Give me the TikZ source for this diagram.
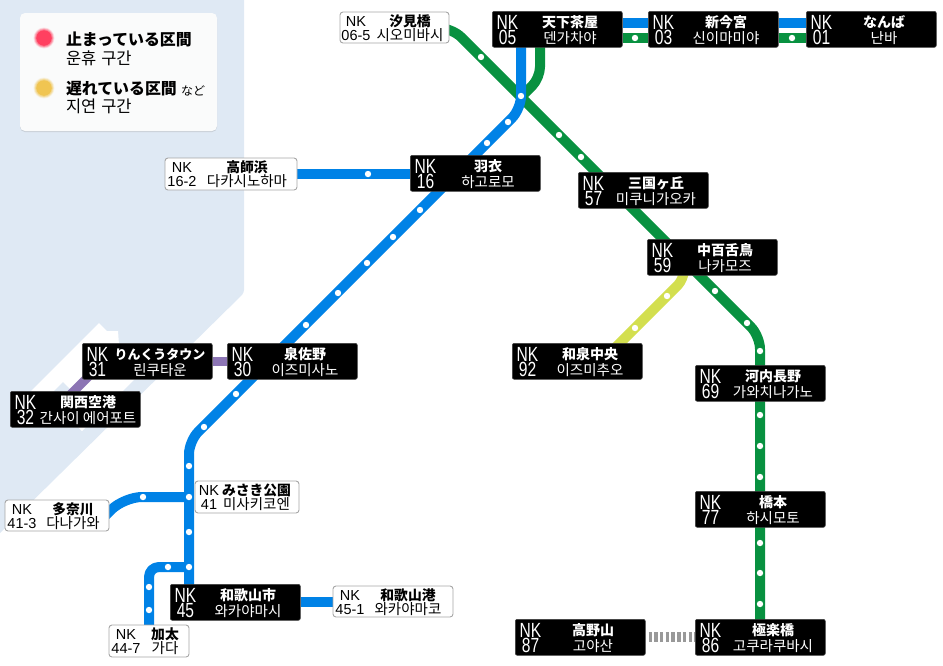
\documentclass[tikz,border=0pt]{standalone}
\usepackage{fontspec}
\usetikzlibrary{shadows}
\setmainfont{Liberation Sans}
\newfontfamily\latinnarrow[FakeStretch=0.76]{Liberation Sans}
\newfontfamily\jpfont{Noto Sans CJK JP}
\newfontfamily\krfont{Noto Sans CJK KR}
\definecolor{seacol}{HTML}{DFE9F4}
\definecolor{linblue}{HTML}{0082E6}
\definecolor{lingreen}{HTML}{089140}
\definecolor{linpurple}{HTML}{8C75B4}
\definecolor{linlime}{HTML}{D3DF4F}
\definecolor{lingray}{HTML}{999999}
\definecolor{stopred}{HTML}{FF4060}
\definecolor{stopamber}{HTML}{F0C552}
\definecolor{legendbg}{HTML}{FAFBFB}
\pgfdeclarelayer{sea}
\pgfdeclarelayer{lines}
\pgfsetlayers{sea,lines,main}
\tikzset{
  blackbox/.style={anchor=north west,fill=black,draw=black!75,line width=.6pt,rounded corners=2pt,minimum width=130pt,minimum height=36pt,inner sep=0pt},
  whitebox/.style={fill=white,draw=black!35,line width=.9pt,rounded corners=3pt,inner sep=0pt},
  txt/.style={anchor=base,inner sep=0pt,outer sep=0pt},
  nkbig/.style={txt,text=white,font=\latinnarrow\fontsize{20.5}{20.5}\selectfont},
  jpw/.style={txt,text=white,font=\jpfont\bfseries\fontsize{14}{14}\selectfont},
  krw/.style={txt,text=white,font=\krfont\fontsize{14.5}{14.5}\selectfont},
  nksmall/.style={txt,text=black,font=\fontsize{14.5}{14.5}\selectfont},
  jpk/.style={txt,text=black,font=\jpfont\bfseries\fontsize{13.8}{13.8}\selectfont},
  krk/.style={txt,text=black,font=\krfont\fontsize{14.5}{14.5}\selectfont},
  track/.style={line width=10pt,line join=round},
  dot/.style={circle,fill=white,inner sep=0pt,minimum size=6.4pt},
}
% id, left, top, number, japanese, korean
\newcommand{\blackstn}[6]{%
  \node[blackbox] (#1) at (#2,#3) {};
  \node[nkbig] (#1nk) at (#2+15.5,#3+18.3) {NK};
  \node[nkbig] (#1no) at (#2+15.5,#3+33.6) {#4};
  \node[jpw] (#1jp) at (#2+78,#3+16.3) {#5};
  \node[krw] (#1kr) at (#2+78,#3+32) {#6};
}
% id, left, top, right, bottom, nk centre x, name centre x, number, japanese, korean
\newcommand{\whitestn}[9]{%
  \node[whitebox,minimum width={(#4)-(#2)},minimum height={(#5)-(#3)}] (#1) at ({((#2)+(#4))/2},{((#3)+(#5))/2}) {};
  \whitestntext{#1}{#2}{#3}{#6}{#7}{#8}{#9}%
}
\newcommand{\whitestntext}[7]{%
  \node[nksmall] (#1nk) at (#4,#3+14.8) {NK};
  \node[nksmall] (#1no) at (#4,#3+28.3) {#6};
  \node[jpk] (#1jp) at (#5,#3+14.6) {#7};
  \whitekr{#1}{#5}{#3}%
}
\newcommand{\whitekr}[3]{\node[krk] (#1kr) at (#2,#3+28.4) {\csname kr#1\endcsname};}
\begin{document}
\begin{tikzpicture}[x=1pt,y=-1pt]
\useasboundingbox (0,0) rectangle (943,665);
\begin{pgfonlayer}{sea}
  \fill[seacol] (0,0) -- (244,0) -- (244,288) [rounded corners=3pt] -- (244,293) [sharp corners] -- (0,533) -- cycle;
  \fill[white] (99,323) -- (107,331) -- (118,331) -- (119,345) -- (135,379) -- (82,431) -- (50,399) -- (30,392) -- cycle;
  \fill[seacol] (63,382) -- (52,393) -- (74,393) -- cycle;
\end{pgfonlayer}

% stations
\blackstn{nA}{492}{11}{05}{天下茶屋}{덴가차야}
\blackstn{nB}{648}{11}{03}{新今宮}{신이마미야}
\blackstn{nC}{806}{11}{01}{なんば}{난바}
\blackstn{nD}{410}{155}{16}{羽衣}{하고로모}
\blackstn{nE}{578}{172}{57}{三国ヶ丘}{미쿠니가오카}
\blackstn{nF}{647}{239}{59}{中百舌鳥}{나카모즈}
\blackstn{nG}{512}{343}{92}{和泉中央}{이즈미추오}
\blackstn{nH}{695}{365}{69}{河内長野}{가와치나가노}
\blackstn{nI}{695}{491}{77}{橋本}{하시모토}
\blackstn{nJ}{695}{619}{86}{極楽橋}{고쿠라쿠바시}
\blackstn{nK}{515}{619}{87}{高野山}{고야산}
\blackstn{nL}{82}{343}{31}{\fontsize{13}{13}\selectfont りんくうタウン}{린쿠타운}
\blackstn{nM}{227}{343}{30}{泉佐野}{이즈미사노}
\blackstn{nN}{10}{391}{32}{関西空港}{간사이 에어포트}
\blackstn{nO}{170}{584}{45}{和歌山市}{와카야마시}

\expandafter\def\csname krwP\endcsname{시오미바시}
\expandafter\def\csname krwQ\endcsname{다카시노하마}
\expandafter\def\csname krwR\endcsname{미사키코엔}
\expandafter\def\csname krwS\endcsname{다나가와}
\expandafter\def\csname krwT\endcsname{가다}
\expandafter\def\csname krwU\endcsname{와카야마코}
\whitestn{wP}{340}{12}{449}{43}{356}{410}{06-5}{汐見橋}
\whitestn{wQ}{165}{158}{297}{190}{182}{247}{16-2}{高師浜}
\whitestn{wR}{195}{481}{299}{513}{209}{256.5}{41}{みさき公園}
\whitestn{wS}{5}{500}{109}{531}{22}{73}{41-3}{多奈川}
\whitestn{wT}{109}{625}{189}{657}{126}{165}{44-7}{加太}
\whitestn{wU}{333}{586}{453}{617}{350}{408}{45-1}{和歌山港}

% junction and line-end coordinates
\coordinate (gA) at (445,28);
\coordinate (gB) at (452,28);
\coordinate (gC) at (760,336);
\coordinate (gD) at (760,630);
\coordinate (hA) at (540,40);
\coordinate (hB) at (540,78);
\coordinate (hC) at (522,96);
\coordinate (bA) at (521,40);
\coordinate (bB) at (521,109);
\coordinate (bC) at (189,441);
\coordinate (bD) at (189,590);
\coordinate (jTana) at (189,497);
\coordinate (tB) at (124,497);
\coordinate (tC) at (104,517);
\coordinate (jKada) at (189,567);
\coordinate (kB) at (149,567);
\coordinate (kC) at (149,632);
\coordinate (limeA) at (684,265);
\coordinate (limeB) at (684,279);
\coordinate (limeC) at (612,351);
\coordinate (purA) at (95,370);
\coordinate (purB) at (70,395);

\begin{pgfonlayer}{lines}
  \draw[track,lingreen,rounded corners=13pt] (gA) -- (gB) -- (gC) -- (gD);
  \draw[track,lingreen,rounded corners=11pt] (hA) -- (hB) -- (hC);
  \draw[track,lingreen] (nA.east |- 0,37.7) -- (nB.west |- 0,37.7);
  \draw[track,lingreen] (nB.east |- 0,37.7) -- (nC.west |- 0,37.7);
  \draw[track,linblue] (nA.east |- 0,23) -- (nB.west |- 0,23);
  \draw[track,linblue] (nB.east |- 0,23) -- (nC.west |- 0,23);
  \draw[track,linblue,rounded corners=13pt] (bA) -- (bB) -- (bC) -- (bD);
  \draw[track,linblue,rounded corners=18pt] (jTana) -- (tB) -- (tC);
  \draw[track,linblue,rounded corners=10pt] (jKada) -- (kB) -- (kC);
  \draw[track,linblue] (nD.west |- 0,174) -- (wQ.east |- 0,174);
  \draw[track,linblue] (nO.east |- 0,601.5) -- (wU.west |- 0,601.5);
  \draw[line width=9pt,linpurple] (nL.east |- 0,361.7) -- (nM.west |- 0,361.7);
  \draw[line width=9pt,linpurple] (purA) -- (purB);
  \draw[track,linlime,rounded corners=9pt] (limeA) -- (limeB) -- (limeC);
  \draw[line width=10pt,lingray,dash pattern=on 3.4pt off 2.3pt] (nK.east |- 0,637) ++(3,0) -- (nJ.west |- 0,637);
  \foreach \dx/\dy [count=\di] in {481/57,559/135,581/157,715/291,747/323,760/351,760/415,760/446,760/477,760/543,760/573,760/604,635/38,792/38,
    521/96,508/122,487/143,420/210,393/237,367/263,338/293,306/325,236/394,204/427,189/466,189/497,189/532,189/567,143/497,168/567,149/587,149/610,368/174,667/296,635/328}
    \node[dot] (stop\di) at (\dx,\dy) {};
\end{pgfonlayer}

% legend
\node[fill=legendbg,rounded corners=5pt,minimum width=197pt,minimum height=118pt,inner sep=0pt,
      drop shadow={shadow xshift=0pt,shadow yshift=-1pt,opacity=.25}] (legend) at (118.5,72) {};
\foreach \rr/\op in {10.5/.15,9.7/.25,8.9/.4,7.8/1}{
  \fill[stopred,opacity=\op] (44,38) circle (\rr pt);
  \fill[stopamber,opacity=\op] (44,88) circle (\rr pt);
}
\node[txt,anchor=base west,font=\jpfont\bfseries\fontsize{15.9}{15.9}\selectfont] (lgA) at (66,45.5) {止まっている区間};
\node[txt,anchor=base west,font=\krfont\fontsize{16.5}{16.5}\selectfont] (lgB) at (66,64) {운휴\hspace{.3em}구간};
\node[txt,anchor=base west,font=\jpfont\bfseries\fontsize{15.9}{15.9}\selectfont] (lgC) at (66,94) {遅れている区間};
\node[txt,anchor=base west,font=\jpfont\fontsize{12}{12}\selectfont] (lgD) at (181,95) {など};
\node[txt,anchor=base west,font=\krfont\fontsize{16.5}{16.5}\selectfont] (lgE) at (66,112) {지연\hspace{.3em}구간};
\end{tikzpicture}
\end{document}
